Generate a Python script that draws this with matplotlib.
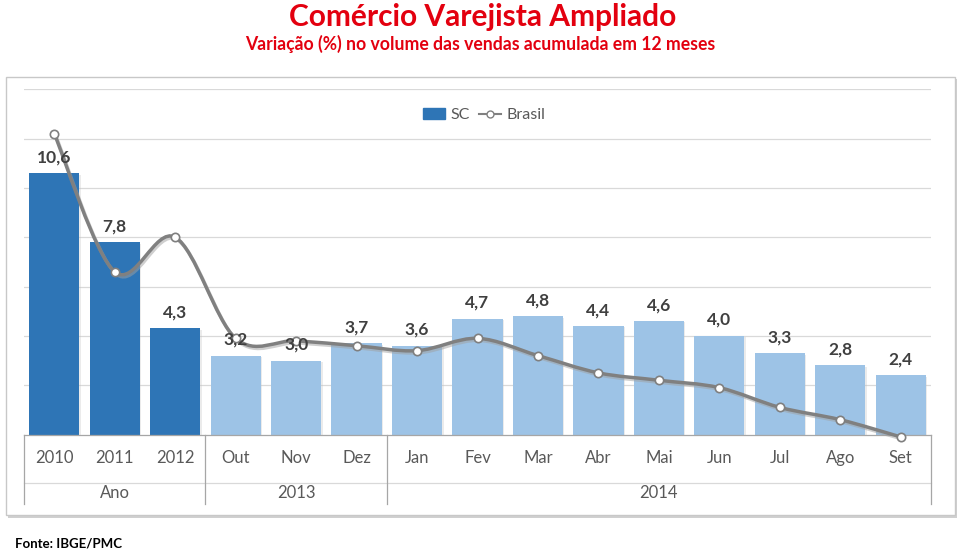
import numpy as np
import matplotlib.pyplot as plt
import matplotlib.patches as mpatches
import matplotlib.patheffects as pe
from matplotlib.path import Path
from matplotlib.lines import Line2D

plt.rcParams['font.family'] = ['Lato', 'DejaVu Sans']

# dados
categorias = ["2010", "2011", "2012", "Out", "Nov", "Dez", "Jan", "Fev", "Mar",
              "Abr", "Mai", "Jun", "Jul", "Ago", "Set"]
sc = [10.6, 7.8, 4.3, 3.2, 3.0, 3.7, 3.6, 4.7, 4.8, 4.4, 4.6, 4.0, 3.3, 2.8, 2.4]
brasil = [12.2, 6.6, 8.0, 3.9, 3.8, 3.6, 3.4, 3.9, 3.2, 2.5, 2.2, 1.9, 1.1, 0.6, -0.1]
grupos = ["Ano", "2013", "2014"]
grupos_n = [3, 3, 9]

escuro = "#2E75B6"
claro = "#9DC3E6"
cores = [escuro] * 3 + [claro] * (len(sc) - 3)

fig = plt.figure(figsize=(9.6, 5.52), dpi=100)

# moldura do gráfico com sombra
sombra = mpatches.Rectangle((8 / 960, 1 - 518 / 552), 949 / 960, 439 / 552,
                            transform=fig.transFigure, facecolor="#D0D0D0",
                            edgecolor="none", zorder=-2)
moldura = mpatches.Rectangle((6 / 960, 1 - 515 / 552), 949 / 960, 438 / 552,
                             transform=fig.transFigure, facecolor="white",
                             edgecolor="#C8C8C8", lw=1, zorder=-1)
fig.patches.extend([sombra, moldura])

ax = fig.add_axes([24 / 960, 117.5 / 552, 907 / 960, 345.2 / 552])
ax.set_facecolor("none")
x = np.arange(len(sc))

barras = ax.bar(x, sc, width=0.83, color=cores, zorder=2)
for b in barras:
    b.set_path_effects([pe.SimplePatchShadow(offset=(1, -1), shadow_rgbFace="#C0C0C0", alpha=0.3),
                        pe.Normal()])

for xi, v in zip(x, sc):
    ax.annotate(f"{v:.1f}".replace(".", ","), (xi, v), xytext=(0, 11.5),
                textcoords="offset points", ha="center", va="center",
                fontsize=12.5, fontweight="bold", color="#404040", zorder=6)

# linha suavizada (Brasil)
pts = np.column_stack([x, brasil]).astype(float)
verts = [tuple(pts[0])]
codes = [Path.MOVETO]
n = len(pts)
for i in range(n - 1):
    p0 = pts[max(i - 1, 0)]
    p1 = pts[i]
    p2 = pts[i + 1]
    p3 = pts[min(i + 2, n - 1)]
    c1 = p1 + (p2 - p0) / 6
    c2 = p2 - (p3 - p1) / 6
    verts += [tuple(c1), tuple(c2), tuple(p2)]
    codes += [Path.CURVE4] * 3
curva = mpatches.PathPatch(Path(verts, codes), facecolor="none", edgecolor="#808080",
                           lw=2.5, zorder=4, capstyle="round", clip_on=False)
curva.set_path_effects([pe.SimpleLineShadow(offset=(1, -1.5), shadow_color="#A0A0A0", alpha=0.5),
                        pe.Normal()])
ax.add_patch(curva)
ax.plot(x, brasil, ls="none", marker="o", ms=6, mfc="white", mec="#7F7F7F",
        mew=1.2, zorder=5, clip_on=False)

ax.set_xlim(-0.5, len(sc) - 0.5)
ax.set_ylim(0, 14)
ax.set_yticks(np.arange(2, 15, 2))
ax.yaxis.grid(True, color="#D9D9D9", lw=0.9)
ax.set_axisbelow(True)
ax.tick_params(left=False, labelleft=False, bottom=False, labelbottom=False)
for s in ["left", "right", "top"]:
    ax.spines[s].set_visible(False)
ax.spines["bottom"].set_color("#A6A6A6")
ax.spines["bottom"].set_linewidth(0.9)

# eixo de categorias em dois níveis
tr = ax.get_xaxis_transform()
for xi, c in zip(x, categorias):
    ax.text(xi, -0.068, c, transform=tr, ha="center", va="center",
            fontsize=12, color="#595959")
ax.plot([-0.5, len(sc) - 0.5], [-0.1405, -0.1405], transform=tr,
        color="#D9D9D9", lw=0.9, clip_on=False)
inicio = -0.5
ax.plot([inicio, inicio], [0, -0.201], transform=tr, color="#A6A6A6", lw=0.9, clip_on=False)
for g, k in zip(grupos, grupos_n):
    fim = inicio + k
    ax.text((inicio + fim) / 2, -0.169, g, transform=tr, ha="center", va="center",
            fontsize=12, color="#595959")
    ax.plot([fim, fim], [0, -0.201], transform=tr, color="#A6A6A6", lw=0.9, clip_on=False)
    inicio = fim

# legenda
h_sc = mpatches.Patch(color=escuro, label="SC")
h_br = Line2D([], [], color="#808080", lw=1.5, marker="o", ms=5, mfc="white",
              mec="#808080", label="Brasil")
fig.legend(handles=[h_sc, h_br], loc="center", bbox_to_anchor=(484 / 960, 1 - 115 / 552),
           ncol=2, frameon=False, fontsize=11.5, labelcolor="#595959",
           handlelength=1.4, handletextpad=0.3, columnspacing=0.6)

# títulos
fig.text(0.503, 1 - 17 / 552, "Comércio Varejista Ampliado", ha="center", va="center",
         fontsize=21.5, fontweight="bold", color="#E3000F")
fig.text(0.50, 1 - 44 / 552, "Variação (%) no volume das vendas acumulada em 12 meses",
         ha="center", va="center", fontsize=12.7, fontweight="bold", color="#E3000F")
fig.text(15 / 960, 1 - 544 / 552, "Fonte: IBGE/PMC", ha="left", va="center",
         fontsize=9.5, fontweight="bold", color="black")

fig.savefig("out.png", dpi=100)
